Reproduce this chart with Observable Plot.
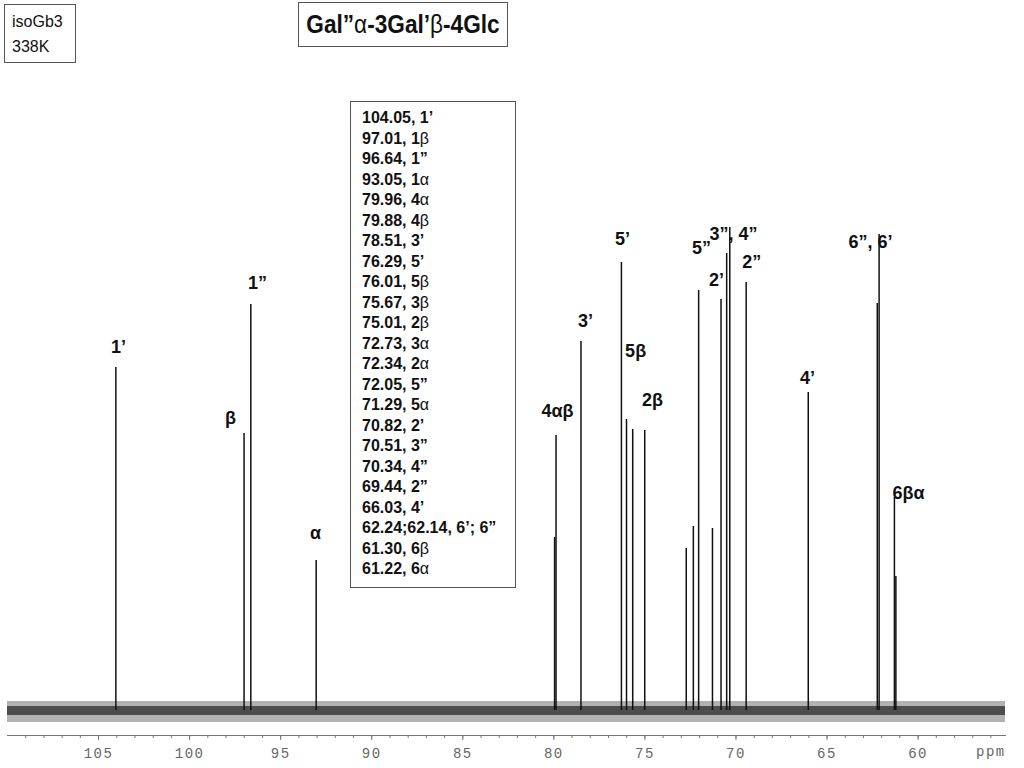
<!DOCTYPE html>
<html>
<head>
<meta charset="utf-8">
<script src="https://cdn.jsdelivr.net/npm/d3@7"></script>
<script src="https://cdn.jsdelivr.net/npm/@observablehq/plot@0.6"></script>
<style>
html,body{margin:0;padding:0;background:#fff;}
#wrap{position:relative;width:1024px;height:768px;overflow:hidden;font-family:Arial,"Liberation Sans",sans-serif;}
#wrap svg{position:absolute;left:0;top:0;}
.box{position:absolute;border:1px solid #555;background:#fff;box-sizing:border-box;color:#111;}
#info{left:4px;top:4px;width:72px;height:59px;font-size:16px;line-height:25px;padding:4px 0 0 7px;}
#title{left:298px;top:2px;width:210px;height:45px;font-size:26px;font-weight:bold;line-height:43px;white-space:nowrap;}
#title span.t{position:absolute;left:50%;top:0;transform:translateX(-50%) scaleX(0.87);transform-origin:center;}
#legend{left:350px;top:101px;width:166px;height:487px;font-size:16px;font-weight:bold;line-height:20.5px;padding:6px 0 0 11px;white-space:nowrap;}
.g{font-weight:normal;}
#ppm{position:absolute;left:976px;top:744px;font-family:"Liberation Mono",monospace;font-size:14px;letter-spacing:1.5px;color:#666;}
.xt text{letter-spacing:1.5px;}
</style>
</head>
<body>
<div id="wrap"></div>
<script>
// Peak positions (ppm) and heights (arbitrary intensity units)
const peakPpm = [104.05, 97.01, 96.64, 93.05, 79.96, 79.88, 78.51, 76.29, 76.01, 75.67, 75.01,
  72.73, 72.34, 72.05, 71.29, 70.82, 70.51, 70.34, 69.44, 66.03, 62.24, 62.14, 61.30, 61.22];
const peakHeight = [343, 277, 406, 150, 173, 275, 369, 448, 291, 281, 280,
  162, 184, 420, 182, 411, 457, 483, 428, 318, 407, 476, 213, 134];

// Peak labels drawn above the spectrum
const labelText = ["1’", "β", "1”", "α", "4αβ", "3’", "5’", "5β", "2β", "5”", "2’", "3”, 4”", "2”", "4’", "6”, 6’", "6βα"];
const labelPpm = [103.9, 97.75, 96.27, 93.09, 79.80, 78.26, 76.23, 75.51, 74.58, 71.89, 71.07, 70.13, 69.14, 66.07, 62.61, 60.52];
const labelHeight = [363, 292, 427, 177, 299, 389, 471, 359, 310, 462, 430, 476, 448, 332, 468, 217];

// Assignment table
const legendShift = ["104.05","97.01","96.64","93.05","79.96","79.88","78.51","76.29","76.01","75.67","75.01",
  "72.73","72.34","72.05","71.29","70.82","70.51","70.34","69.44","66.03","62.24;62.14","61.30","61.22"];
const legendAtom = ["1’","1β","1”","1α","4α","4β","3’","5’","5β","3β","2β",
  "3α","2α","5”","5α","2’","3”","4”","2”","4’","6’; 6”","6β","6α"];

// Axis
const xDomain = [110, 55.2];
const majorTicks = [105, 100, 95, 90, 85, 80, 75, 70, 65, 60];
const minorTicks = d3.range(56, 110);

// Baseline noise envelope (outer spread and dense core)
const noiseOuter = [{x: 110, lo: -12, hi: 9}, {x: 55.2, lo: -12, hi: 9}];
const noiseInner = [{x: 110, lo: -5, hi: 4}, {x: 55.2, lo: -5, hi: 4}];

const peaks = peakPpm.map((p, i) => ({ppm: p, h: peakHeight[i]}));
const labels = labelText.map((t, i) => ({t, ppm: labelPpm[i], h: labelHeight[i]}));

const wrap = document.getElementById("wrap");

const svg = Plot.plot({
  width: 1024,
  height: 768,
  marginLeft: 7,
  marginRight: 19,
  marginTop: 210,
  marginBottom: 33,
  x: {domain: xDomain, axis: null},
  y: {domain: [-25, 500], axis: null},
  marks: [
    Plot.areaY(noiseOuter, {x: "x", y1: "lo", y2: "hi", fill: "#555", fillOpacity: 0.45}),
    Plot.areaY(noiseInner, {x: "x", y1: "lo", y2: "hi", fill: "#222", fillOpacity: 0.7}),
    Plot.ruleX(peaks, {x: "ppm", y1: 0, y2: "h", stroke: "#111", strokeWidth: 1.5}),
    Plot.frame({anchor: "bottom", stroke: "#777"}),
    Plot.axisX({ticks: minorTicks, tickSize: 3, stroke: "#777", fill: "none"}),
    Plot.axisX({ticks: majorTicks, tickSize: 5, tickPadding: 8, stroke: "#777", fill: "#666",
      fontFamily: "Liberation Mono, monospace", fontSize: 14, className: "xt"}),
    Plot.text(labels, {x: "ppm", y: "h", text: "t", fontSize: 18, fontWeight: "bold",
      fill: "#111", fontFamily: "Arial, Liberation Sans, sans-serif"})
  ]
});
wrap.appendChild(svg);

function greekify(s) {
  return s.replace(/([αβ])/g, '<span class="g">$1</span>');
}

const info = document.createElement("div");
info.className = "box"; info.id = "info";
info.innerHTML = "isoGb3<br>338K";
wrap.appendChild(info);

const title = document.createElement("div");
title.className = "box"; title.id = "title";
title.innerHTML = '<span class="t">' + "Gal”" + '<span class="g">α</span>' + "-3Gal’" + '<span class="g">β</span>' + "-4Glc</span>";
wrap.appendChild(title);

const legend = document.createElement("div");
legend.className = "box"; legend.id = "legend";
legend.innerHTML = legendShift.map((s, i) => s + ", " + greekify(legendAtom[i])).join("<br>");
wrap.appendChild(legend);

const ppm = document.createElement("div");
ppm.id = "ppm";
ppm.textContent = "ppm";
wrap.appendChild(ppm);
</script>
</body>
</html>
